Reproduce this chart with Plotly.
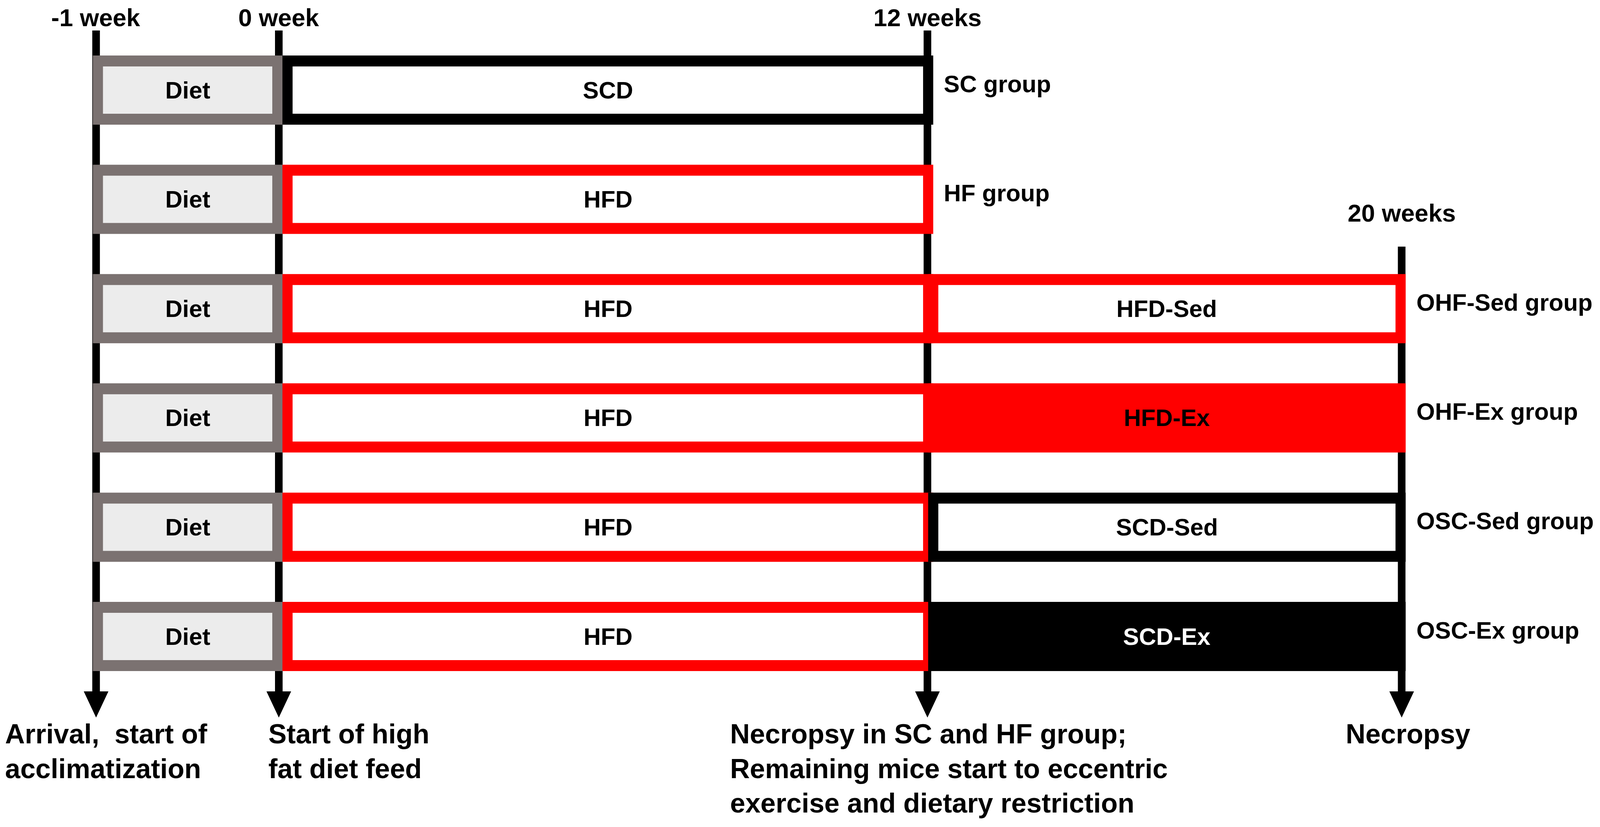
''' study timeline: diet groups, -1 to 20 weeks '''
import numpy as np
import plotly.graph_objects as go

# data
weeks = [-1, 0, 12, 20]
week_labels = ["-1 week", "0 week", "12 weeks", "20 weeks"]
event_labels = [
    ["Arrival,  start of", "acclimatization"],
    ["Start of high", "fat diet feed"],
    ["Necropsy in SC and HF group;", "Remaining mice start to eccentric", "exercise and dietary restriction"],
    ["Necropsy"],
]
groups = ["SC group", "HF group", "OHF-Sed group", "OHF-Ex group", "OSC-Sed group", "OSC-Ex group"]
acclim = ["Diet", "Diet", "Diet", "Diet", "Diet", "Diet"]
phase1 = ["SCD", "HFD", "HFD", "HFD", "HFD", "HFD"]
phase2 = [None, None, "HFD-Sed", "HFD-Ex", "SCD-Sed", "SCD-Ex"]
end_week = [12, 12, 20, 20, 20, 20]

# style / layout
REF_W, REF_H = 4413, 2116      # drawing coordinates
PAGE_W, PAGE_H = 4096, 2116    # what the browser actually shows
PAD = 8                        # body margin of the html page
kx = REF_W / PAGE_W
RED, BLACK, GREY, LIGHT = "#ff0000", "#000000", "#7b7271", "#ececec"
STYLE = {  # border colour, fill, text colour
    "Diet": (GREY, LIGHT, BLACK),
    "SCD": (BLACK, "white", BLACK),
    "HFD": (RED, "white", BLACK),
    "HFD-Sed": (RED, "white", BLACK),
    "HFD-Ex": (RED, RED, BLACK),
    "SCD-Sed": (BLACK, "white", BLACK),
    "SCD-Ex": (BLACK, BLACK, "white"),
}
timeline_x = [265, 769, 2558, 3866]   # position of each week mark
event_x = [12, 738, 2012, 3709]       # left edge of the bottom notes
row_top0, row_step, row_h = 142, 279.6, 177
bw = 28          # box border
lw = 19.5        # timeline line width (screen px)
line_top = 78
arrow_top, arrow_tip, arrow_w = 1769, 1836, 68
FONT = "Liberation Sans, Arial, sans-serif"


def wx(w):
    return float(np.interp(w, weeks, timeline_x))


fig = go.Figure()
shapes = []
annots = []


def box(x0, x1, y0, y1, label, size=61):
    edge, fill, tc = STYLE[label]
    shapes.append(dict(type="rect", x0=x0, x1=x1, y0=y0, y1=y1, line_width=0, fillcolor=edge))
    shapes.append(dict(type="rect", x0=x0 + bw, x1=x1 - bw, y0=y0 + bw, y1=y1 - bw,
                       line_width=0, fillcolor=fill))
    annots.append(dict(x=(x0 + x1) / 2, y=(y0 + y1) / 2, text="<b>%s</b>" % label, showarrow=False,
                       xanchor="center", yanchor="middle", font=dict(family=FONT, size=size, color=tc)))


# timeline lines with arrowheads (under the boxes)
for i, w in enumerate(weeks):
    x = wx(w)
    y0 = line_top if w != 20 else 631
    shapes.append(dict(type="line", x0=x, x1=x, y0=y0, y1=arrow_top + 2, line=dict(color=BLACK, width=lw)))
    shapes.append(dict(type="path", path="M %f,%f L %f,%f L %f,%f Z" % (
        x - arrow_w / 2, arrow_top, x + arrow_w / 2, arrow_top, x, arrow_tip),
        fillcolor=BLACK, line_width=0))
    ty = 45 if w != 20 else 545
    annots.append(dict(x=x, y=ty, text="<b>%s</b>" % week_labels[i], showarrow=False,
                       xanchor="center", yanchor="middle", font=dict(family=FONT, size=63, color=BLACK)))
    for j, line in enumerate(event_labels[i]):
        annots.append(dict(x=event_x[i], y=1878 + 88.5 * j, text="<b>%s</b>" % line, showarrow=False,
                           xanchor="left", yanchor="middle", font=dict(family=FONT, size=70, color=BLACK)))

# group rows
for r, g in enumerate(groups):
    y0 = row_top0 + r * row_step
    y1 = y0 + row_h
    box(wx(-1) - 9, wx(0) + 10, y0, y1, acclim[r])
    box(wx(0) + 10, wx(12) + 16, y0, y1, phase1[r])
    if phase2[r]:
        box(wx(12) + 2, wx(20) + 11, y0, y1, phase2[r])
    xe = wx(end_week[r]) + (15 if end_week[r] == 12 else 11)
    annots.append(dict(x=xe + 28, y=(y0 + y1) / 2 - 16, text="<b>%s</b>" % g, showarrow=False,
                       xanchor="left", yanchor="middle", font=dict(family=FONT, size=61, color=BLACK)))

fig.update_layout(
    width=PAGE_W - 2 * PAD, height=PAGE_H - PAD, margin=dict(l=0, r=0, t=0, b=0),
    paper_bgcolor="white", plot_bgcolor="white", showlegend=False,
    shapes=shapes, annotations=annots,
    xaxis=dict(range=[PAD * kx, (PAGE_W - PAD) * kx], visible=False, fixedrange=True),
    yaxis=dict(range=[PAGE_H, PAD], visible=False, fixedrange=True),
)
fig.write_html("out.html")
